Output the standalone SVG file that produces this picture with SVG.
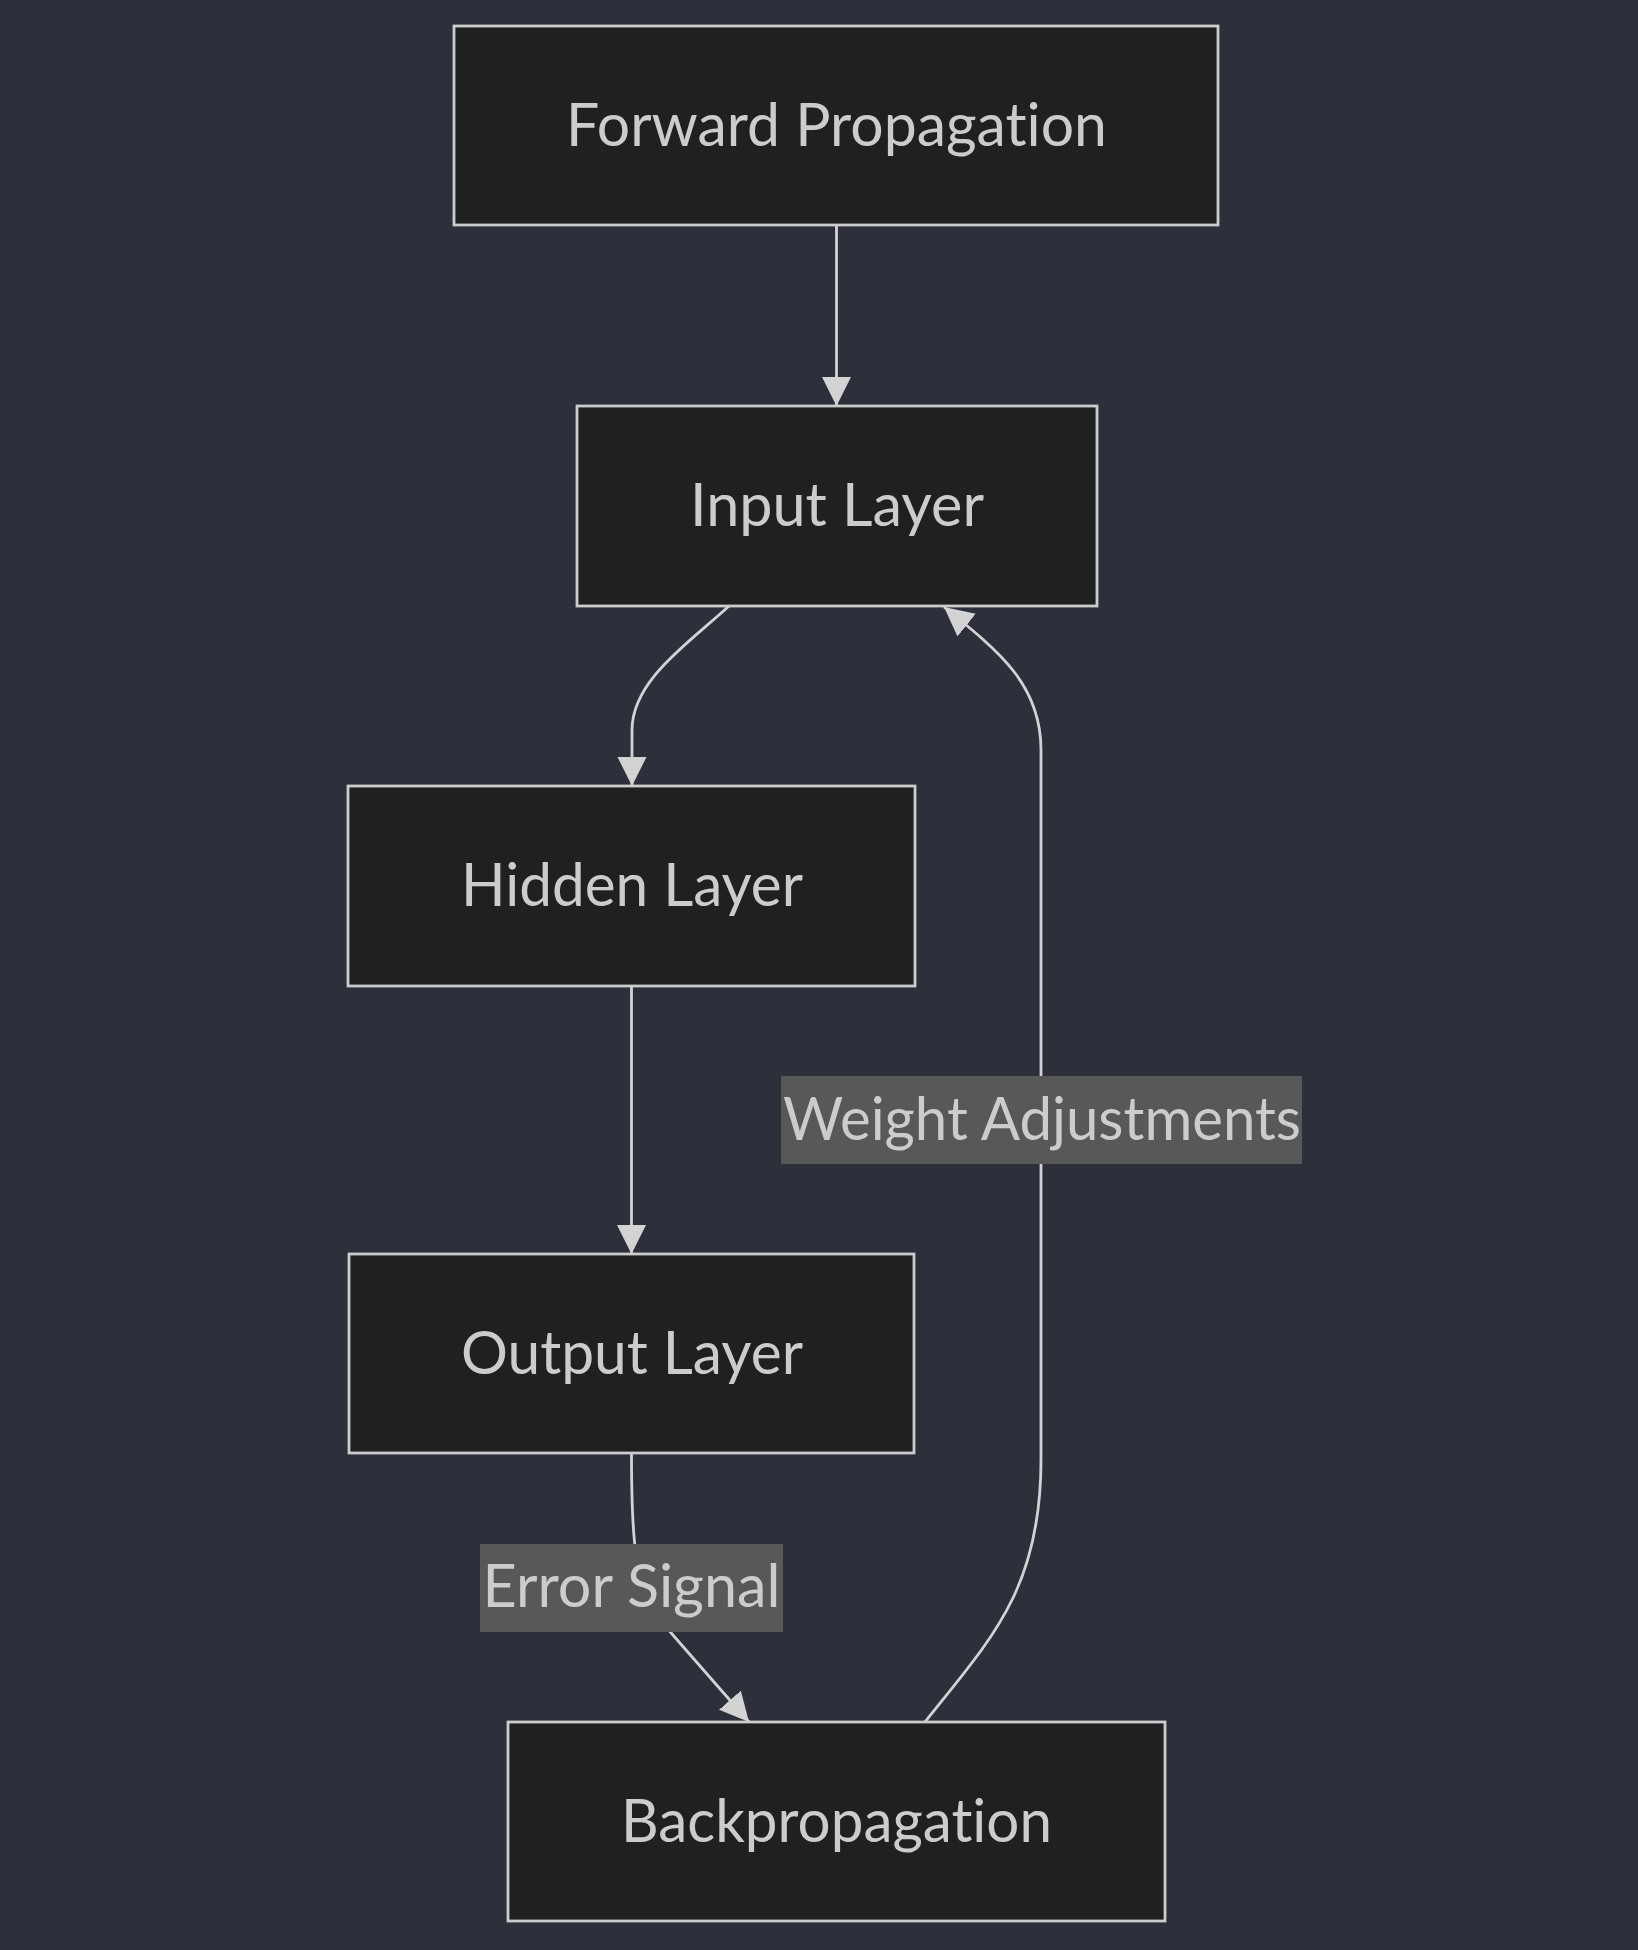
<svg xmlns="http://www.w3.org/2000/svg" width="1638" height="1950" viewBox="0 0 1638 1950">
<style>
.node rect{fill:#1f2020;stroke:#cccccc;stroke-width:2.8}
.node text,.elabel text{font-family:Lato,"Liberation Sans",sans-serif;font-size:60px;fill:#cccccc;text-anchor:middle;font-variant-ligatures:none;font-feature-settings:"liga" 0}
.edge{fill:none;stroke:#d3d3d3;stroke-width:2.8}
.elabel rect{fill:#585858}
</style>
<defs>
<marker id="arrow" viewBox="0 0 10 10" refX="10" refY="5" markerUnits="userSpaceOnUse" markerWidth="29" markerHeight="30" orient="auto">
<path d="M0,0 L10,5 L0,10 z" fill="#d3d3d3"/>
</marker>
</defs>
<rect width="1638" height="1950" fill="#2d303b"/>
<g id="connectors">
<path class="edge" d="M836.5,225 L836.5,406" marker-end="url(#arrow)"/>
<path class="edge" d="M729,606 C690,642 632,680 632,730 L632,786" marker-end="url(#arrow)"/>
<path class="edge" d="M631.5,986 L631.5,1254" marker-end="url(#arrow)"/>
<path class="edge" d="M631.5,1453 C631.5,1520 633,1570 651,1610 L749,1722" marker-end="url(#arrow)"/>
<path class="edge" d="M925,1722 C990,1640 1041,1590 1041,1460 L1041,750 C1041,685 1000,652 944,607" marker-end="url(#arrow)"/>
</g>
<g id="label-error" class="elabel">
<rect x="480" y="1544" width="303" height="88"/>
<text x="631.5" y="1607" textLength="298" lengthAdjust="spacingAndGlyphs">Error Signal</text>
</g>
<g id="label-weight" class="elabel">
<rect x="781" y="1076" width="521" height="88"/>
<text x="1042" y="1140" textLength="518" lengthAdjust="spacingAndGlyphs">Weight Adjustments</text>
</g>
<g id="forward" class="node">
<rect x="454" y="26" width="764" height="199"/>
<text x="836.5" y="146" textLength="541" lengthAdjust="spacingAndGlyphs">Forward Propagation</text>
</g>
<g id="input" class="node">
<rect x="577" y="406" width="520" height="200"/>
<text x="837" y="526" textLength="294" lengthAdjust="spacingAndGlyphs">Input Layer</text>
</g>
<g id="hidden" class="node">
<rect x="348" y="786" width="567" height="200"/>
<text x="632" y="906" textLength="342" lengthAdjust="spacingAndGlyphs">Hidden Layer</text>
</g>
<g id="output" class="node">
<rect x="349" y="1254" width="565" height="199"/>
<text x="632" y="1374" textLength="342" lengthAdjust="spacingAndGlyphs">Output Layer</text>
</g>
<g id="backprop" class="node">
<rect x="508" y="1722" width="657" height="199"/>
<text x="836.5" y="1842" textLength="431" lengthAdjust="spacingAndGlyphs">Backpropagation</text>
</g>
</svg>
